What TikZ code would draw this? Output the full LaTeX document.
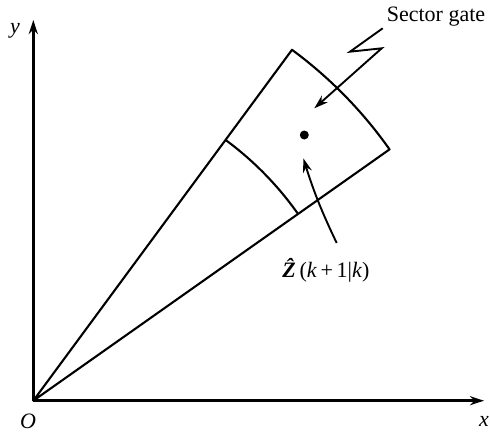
\documentclass[tikz,border=0pt]{standalone}
\usepackage{fontspec}
\setmainfont{Liberation Serif}
\usetikzlibrary{arrows.meta,calc}
\begin{document}
\begin{tikzpicture}[x=1pt,y=1pt,
  lbl/.style={font=\fontsize{22}{26}\selectfont, inner sep=0pt},
  ilbl/.style={font=\fontsize{22}{26}\selectfont\itshape, inner sep=0pt},
  axis/.style={line width=2.8pt,-{Stealth[length=14pt,width=9pt]}},
  edge/.style={line width=2.1pt, line join=round},
  ptr/.style={line width=1.9pt,-{Stealth[length=14pt,width=9pt]}}]
\useasboundingbox (0,0) rectangle (490,-432);
\coordinate (O) at (33.3,-400.7);
\coordinate (xend) at (484,-400.7);
\coordinate (yend) at (33.3,-20);
\draw[axis] (O) -- (xend);
\draw[axis] (O) -- (yend);
\node[ilbl] (Olab) at (28,-421) {O};
\node[ilbl] (xlab) at (484,-421) {x};
\node[ilbl] (ylab) at (15,-31) {y};
% sector
\coordinate (A) at ($(O)+(53.6:436)$);
\coordinate (I1) at ($(O)+(53.6:324)$);
\draw[edge] (O) -- (A) arc[start angle=53.6, end angle=35.2, radius=436] -- cycle;
\draw[edge] (I1) arc[start angle=53.6, end angle=35.2, radius=324];
% predicted point
\fill (304.3,-135) circle[radius=4.5];
% sector gate label
\node[lbl] (gate) at (436,-17) {Sector gate};
\coordinate (z0) at (382.7,-28.3);
\coordinate (z1) at (350,-51.7);
\coordinate (z2) at (381.7,-48.3);
\coordinate (gtip) at (314.3,-108.3);
\draw[ptr, line join=miter] (z0) -- (z1) -- (z2) -- (gtip);
% Z hat label
\node[lbl] (zlab) at (326,-270) {\textbf{\textit{\^{Z}}}\,(\textit{k}\,+\,1|\textit{k})};
\coordinate (ztail) at (336.7,-243);
\coordinate (ztip) at (303.3,-158.3);
\draw[ptr] (ztail) to[bend left=4] (ztip);
\end{tikzpicture}
\end{document}
